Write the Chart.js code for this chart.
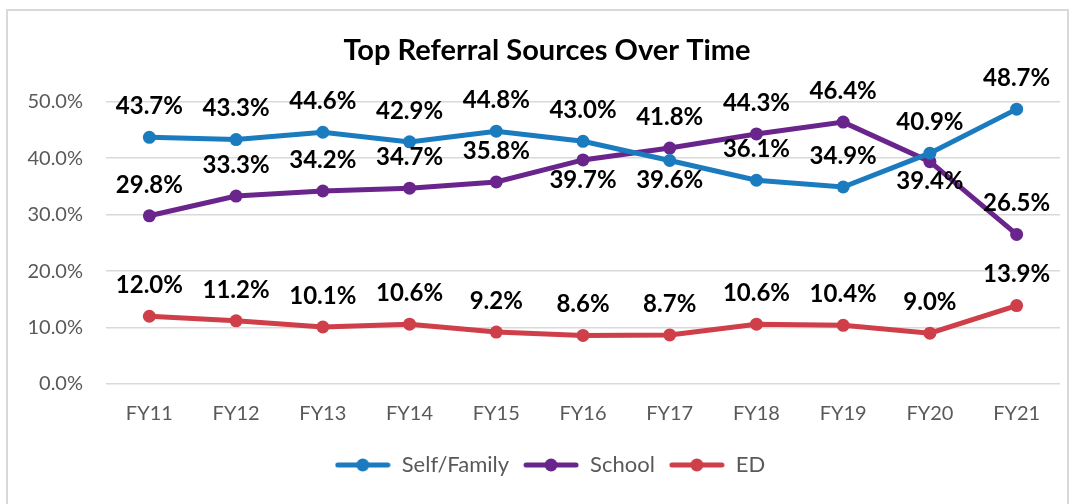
<!DOCTYPE html>
<html>
<head>
<meta charset="utf-8">
<title>Top Referral Sources Over Time</title>
<script src="https://cdn.jsdelivr.net/npm/chart.js@4.4.1/dist/chart.umd.min.js"></script>
<style>
    html, body { margin: 0; padding: 0; background: #fff; overflow: hidden; }
    #wrap { position: relative; width: 1078px; height: 504px; }
    #frame {
        position: absolute; left: 6px; top: 9px; width: 1063px; height: 510px;
        border: 2px solid #d9d9d9; box-sizing: border-box; pointer-events: none;
    }
    canvas { position: absolute; left: 0; top: 0; }
</style>
</head>
<body>
<div id="wrap">
    <div id="frame"></div>
    <canvas id="mainChart" width="1078" height="504"></canvas>
</div>
<script>
// --- Data ---
const years = ['FY11', 'FY12', 'FY13', 'FY14', 'FY15', 'FY16', 'FY17', 'FY18', 'FY19', 'FY20', 'FY21'];
const selfFamily = [43.7, 43.3, 44.6, 42.9, 44.8, 43.0, 39.6, 36.1, 34.9, 40.9, 48.7];
const school = [29.8, 33.3, 34.2, 34.7, 35.8, 39.7, 41.8, 44.3, 46.4, 39.4, 26.5];
const ed = [12.0, 11.2, 10.1, 10.6, 9.2, 8.6, 8.7, 10.6, 10.4, 9.0, 13.9];
const yTicks = [0, 10, 20, 30, 40, 50];

const COLORS = { self: '#1b7bbf', school: '#69258c', ed: '#cf3f49' };
const FONT = 'Lato, "Liberation Sans", sans-serif';

// legend swatch: line with a dot in the middle, like the Excel legend
function legendSwatch(color) {
    const c = document.createElement('canvas');
    c.width = 56; c.height = 16;
    const g = c.getContext('2d');
    g.strokeStyle = color;
    g.lineWidth = 5;
    g.lineCap = 'round';
    g.beginPath(); g.moveTo(3, 8); g.lineTo(53, 8); g.stroke();
    g.fillStyle = color;
    g.beginPath(); g.arc(28, 8, 6.5, 0, Math.PI * 2); g.fill();
    return c;
}

// --- Data label plugin (no datalabels plugin available offline) ---
const valueLabels = {
    id: 'valueLabels',
    afterDatasetsDraw(chart, args, opts) {
        const ctx = chart.ctx;
        ctx.save();
        ctx.font = opts.font;
        ctx.fillStyle = '#000';
        ctx.textAlign = 'center';
        ctx.textBaseline = 'middle';
        chart.data.datasets.forEach((ds, di) => {
            const below = opts.below[di] || [];
            chart.getDatasetMeta(di).data.forEach((pt, i) => {
                const dy = below.includes(i) ? opts.belowOffset : -opts.aboveOffset;
                ctx.fillText(ds.data[i].toFixed(1) + '%', pt.x, pt.y + dy);
            });
        });
        ctx.restore();
    }
};

// the Excel title/legend sit a little right of the canvas centre
const nudgeHeader = {
    id: 'nudgeHeader',
    afterLayout(chart, args, opts) {
        if (chart.titleBlock) chart.titleBlock.left += opts.title;
        if (chart.legend) chart.legend.left += opts.legend;
    }
};

function makeDataset(label, data, color) {
    return {
        label,
        data,
        borderColor: color,
        backgroundColor: color,
        borderWidth: 5,
        pointRadius: 6.5,
        pointHoverRadius: 6.5,
        pointBorderWidth: 0,
        pointStyle: 'circle',
        tension: 0,
        clip: false
    };
}

new Chart(document.getElementById('mainChart').getContext('2d'), {
    type: 'line',
    data: {
        labels: years,
        datasets: [
            makeDataset('Self/Family', selfFamily, COLORS.self),
            makeDataset('School', school, COLORS.school),
            makeDataset('ED', ed, COLORS.ed)
        ]
    },
    options: {
        responsive: false,
        devicePixelRatio: 1,
        animation: false,
        layout: { padding: { left: 6, right: 18, top: 10, bottom: 18 } },
        plugins: {
            tooltip: { enabled: false },
            title: {
                display: true,
                text: 'Top Referral Sources Over Time',
                color: '#000',
                font: { family: FONT, size: 29, weight: 'bold', lineHeight: 1.2 },
                padding: { top: 23, bottom: 34 }
            },
            legend: {
                position: 'bottom',
                labels: {
                    usePointStyle: true,
                    pointStyleWidth: 56,
                    color: '#595959',
                    font: { family: FONT, size: 22 },
                    padding: 14,
                    generateLabels(chart) {
                        return chart.data.datasets.map((ds, i) => ({
                            text: ds.label,
                            fillStyle: ds.borderColor,
                            strokeStyle: ds.borderColor,
                            lineWidth: 0,
                            pointStyle: legendSwatch(ds.borderColor),
                            fontColor: '#595959',
                            datasetIndex: i,
                            hidden: false
                        }));
                    }
                }
            },
            valueLabels: {
                font: 'bold 24px ' + FONT,
                aboveOffset: 31,
                belowOffset: 20,
                below: { 0: [6], 1: [5, 9] }
            },
            nudgeHeader: { title: 28, legend: 34 }
        },
        scales: {
            x: {
                offset: true,
                grid: { display: false, offset: true },
                border: { display: false },
                ticks: { color: '#595959', font: { family: FONT, size: 20 }, padding: 10 },
                afterFit(scale) { scale.height = 56; }
            },
            y: {
                min: 0,
                max: 50,
                afterBuildTicks(scale) { scale.ticks = yTicks.map(v => ({ value: v })); },
                grid: { color: '#d9d9d9', lineWidth: 1.5, drawTicks: false },
                border: { display: false },
                ticks: {
                    color: '#595959',
                    font: { family: FONT, size: 20 },
                    padding: 23,
                    callback: v => v.toFixed(1) + '%'
                },
                afterFit(scale) { scale.width = 100; }
            }
        }
    },
    plugins: [valueLabels, nudgeHeader]
});
</script>
</body>
</html>
